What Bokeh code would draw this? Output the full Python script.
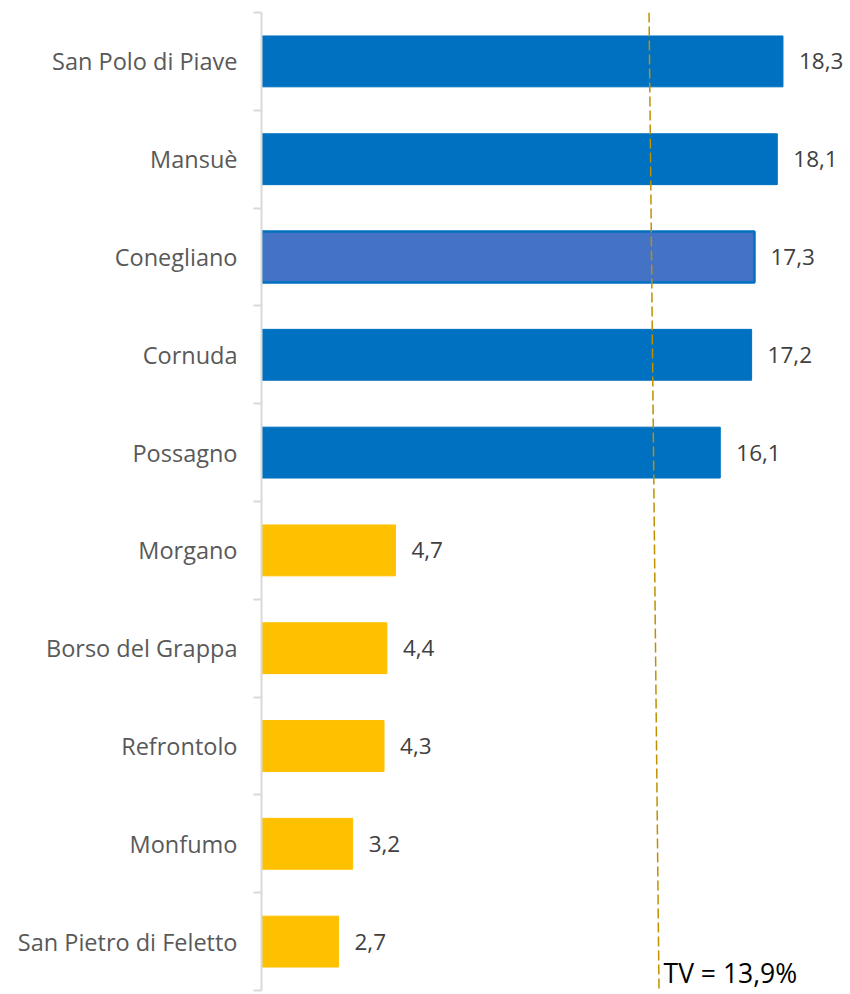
from bokeh.plotting import figure
from bokeh.models import ColumnDataSource, FixedTicker, Range1d, Label
from bokeh.core.properties import value
from bokeh.embed import file_html
from bokeh.resources import INLINE

# Data (top to bottom in the reference)
municipalities = ["San Polo di Piave", "Mansuè", "Conegliano", "Cornuda", "Possagno",
                  "Morgano", "Borso del Grappa", "Refrontolo", "Monfumo", "San Pietro di Feletto"]
values = [18.3, 18.1, 17.3, 17.2, 16.1, 4.7, 4.4, 4.3, 3.2, 2.7]
bar_colors = ["#0070C0", "#0070C0", "#4472C4", "#0070C0", "#0070C0",
              "#FFC000", "#FFC000", "#FFC000", "#FFC000", "#FFC000"]
tv_value = 13.9
tv_line_x = [13.6, 13.95]   # slanted reference line: top, bottom

n = len(municipalities)
positions = [n - i for i in range(n)]  # top item at n
labels = [f"{v:.1f}".replace(".", ",") for v in values]

src = ColumnDataSource(dict(y=positions, x=values, color=bar_colors, label=labels, name=municipalities))

FONT = "Open Sans"

p = figure(width=850, height=994, output_backend="svg", toolbar_location=None,
           x_range=Range1d(0, 20.67), y_range=Range1d(0.5, n + 0.5),
           min_border_left=261, min_border_right=0, min_border_top=12, min_border_bottom=4)
p.outline_line_color = None
p.xgrid.visible = False
p.ygrid.visible = False
p.xaxis.visible = False

p.hbar(y="y", right="x", left=0, height=0.52, fill_color="color", line_color="color",
       line_width=1, source=src)
# emphasised bar border
p.hbar(y=[positions[2]], right=[values[2]], left=0, height=0.52, fill_color=None,
       line_color="#0070C0", line_width=2.5)

p.text(x="x", y="y", text="label", source=src, x_offset=16, text_baseline="middle",
       text_align="left", text_font=value(FONT), text_font_size="22.5px", text_color="#404040")

p.segment(x0=[tv_line_x[0]], y0=[n + 0.5], x1=[tv_line_x[1]], y1=[0.5],
          line_color="#BF9000", line_width=1.5, line_dash="10 4")

p.add_layout(Label(x=tv_value, y=0.5, text="TV = 13,9%", x_offset=6, y_offset=0,
                   text_baseline="bottom", text_font=FONT, text_font_size="26.5px",
                   text_color="#000000"))

yax = p.yaxis[0]
yax.ticker = FixedTicker(ticks=positions, minor_ticks=[k + 0.5 for k in range(n + 1)])
yax.major_label_overrides = {pos: name for pos, name in zip(positions, municipalities)}
yax.major_tick_line_color = None
yax.major_tick_out = 0
yax.major_tick_in = 0
yax.minor_tick_out = 8
yax.minor_tick_in = 0
yax.minor_tick_line_color = "#D9D9D9"
yax.minor_tick_line_width = 2
yax.axis_line_color = "#D9D9D9"
yax.axis_line_width = 2
yax.major_label_standoff = 16
yax.major_label_text_font = FONT
yax.major_label_text_font_size = "23.5px"
yax.major_label_text_color = "#595959"

open("out.html", "w").write(file_html(p, INLINE))
